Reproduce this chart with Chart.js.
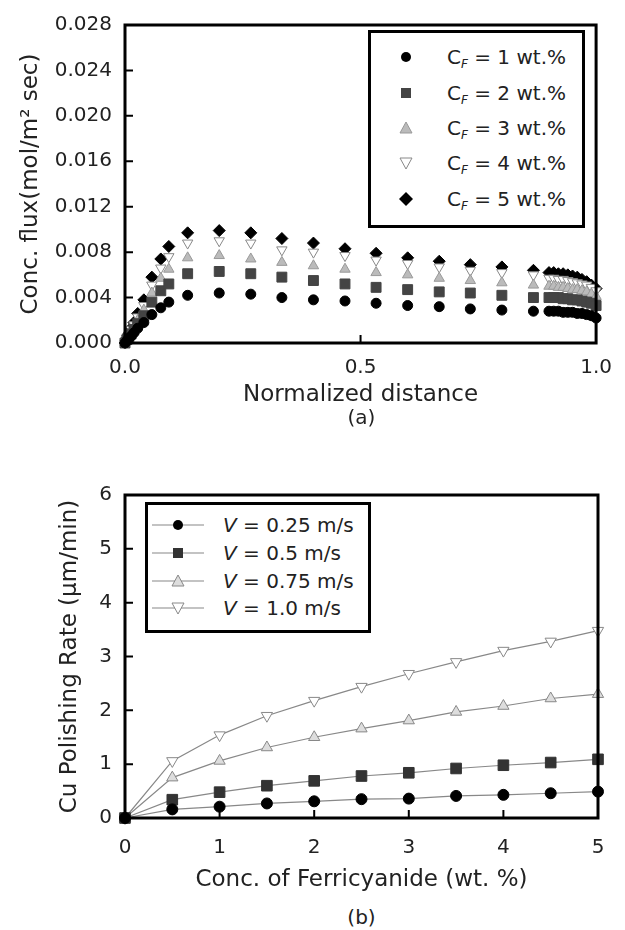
<!DOCTYPE html>
<html lang="en">
<head>
<meta charset="UTF-8" />
<title>Conc. flux / Cu polishing rate</title>
<script src="https://cdn.jsdelivr.net/npm/chart.js"></script>
<style>
    * { box-sizing: border-box; margin: 0; padding: 0; }
    body {
        width: 625px; height: 930px;
        background: #fff; position: relative; overflow: hidden;
        font-family: 'DejaVu Sans', sans-serif; color: #222;
    }
    .wrap { position: absolute; left: 0; width: 625px; }
    .cap { position: absolute; left: 125px; width: 473px; text-align: center; font-size: 20px; line-height: 24px; }

    /* legends drawn as html so the subscripts stay real text */
    .legend { position: absolute; border: 3px solid #000; background: #fff; }
    .row { position: absolute; left: 0; width: 100%; height: 24px; font-size: 20px; line-height: 24px; white-space: nowrap; }
    .row svg { position: absolute; }
    .row .lbl { position: absolute; top: 0; }
    .row sub { font-size: 0.6em; vertical-align: -0.35em; }
</style>
</head>
<body>

<div class="wrap" style="top:0;height:410px"><canvas id="chartA"></canvas></div>
<div class="cap" style="top:405px">(a)</div>

<div class="legend" style="left:368px;top:30px;width:217px;height:198px">
    <div class="row" style="top:12px">
        <svg width="16" height="16" style="left:27px;top:4px"><circle cx="8" cy="8" r="5" fill="#000"/></svg>
        <span class="lbl" style="left:76px">C<sub><i>F</i></sub> = 1 wt.%</span>
    </div>
    <div class="row" style="top:48px">
        <svg width="16" height="16" style="left:27px;top:4px"><rect x="3" y="3" width="10" height="10" fill="#444"/></svg>
        <span class="lbl" style="left:76px">C<sub><i>F</i></sub> = 2 wt.%</span>
    </div>
    <div class="row" style="top:83px">
        <svg width="16" height="16" style="left:27px;top:4px"><polygon points="8,2 14,13 2,13" fill="#bbb" stroke="#999"/></svg>
        <span class="lbl" style="left:76px">C<sub><i>F</i></sub> = 3 wt.%</span>
    </div>
    <div class="row" style="top:118px">
        <svg width="16" height="16" style="left:27px;top:4px"><polygon points="2,3 14,3 8,14" fill="#fff" stroke="#888"/></svg>
        <span class="lbl" style="left:76px">C<sub><i>F</i></sub> = 4 wt.%</span>
    </div>
    <div class="row" style="top:154px">
        <svg width="16" height="16" style="left:27px;top:4px"><polygon points="8,1 15,8 8,15 1,8" fill="#000"/></svg>
        <span class="lbl" style="left:76px">C<sub><i>F</i></sub> = 5 wt.%</span>
    </div>
</div>

<div class="wrap" style="top:470px;height:430px"><canvas id="chartB"></canvas></div>
<div class="cap" style="top:905px">(b)</div>

<div class="legend" style="left:145px;top:502px;width:226px;height:131px">
    <div class="row" style="top:8px">
        <svg width="56" height="16" style="left:4px;top:4px"><line x1="0" y1="8" x2="52" y2="8" stroke="#888" stroke-width="1.2"/><circle cx="26" cy="8" r="5" fill="#000"/></svg>
        <span class="lbl" style="left:75px"><i>V</i> = 0.25 m/s</span>
    </div>
    <div class="row" style="top:36px">
        <svg width="56" height="16" style="left:4px;top:4px"><line x1="0" y1="8" x2="52" y2="8" stroke="#888" stroke-width="1.2"/><rect x="21" y="3" width="10" height="10" fill="#333"/></svg>
        <span class="lbl" style="left:75px"><i>V</i> = 0.5 m/s</span>
    </div>
    <div class="row" style="top:64px">
        <svg width="56" height="16" style="left:4px;top:4px"><line x1="0" y1="8" x2="52" y2="8" stroke="#888" stroke-width="1.2"/><polygon points="26,2 32,13 20,13" fill="#ddd" stroke="#888"/></svg>
        <span class="lbl" style="left:75px"><i>V</i> = 0.75 m/s</span>
    </div>
    <div class="row" style="top:91px">
        <svg width="56" height="16" style="left:4px;top:4px"><line x1="0" y1="8" x2="52" y2="8" stroke="#888" stroke-width="1.2"/><polygon points="20,3 32,3 26,14" fill="#fff" stroke="#888"/></svg>
        <span class="lbl" style="left:75px"><i>V</i> = 1.0 m/s</span>
    </div>
</div>

<script>
    // ---- (a) concentration flux along the pad ----
    const distance = [0, 0.004, 0.008, 0.013, 0.019, 0.027, 0.04, 0.057, 0.076, 0.093,
        0.133, 0.2, 0.267, 0.333, 0.4, 0.467, 0.533, 0.6, 0.667, 0.733, 0.8, 0.867,
        0.9, 0.91, 0.92, 0.93, 0.94, 0.95, 0.96, 0.97, 0.98, 0.99, 1.0];
    const fluxCF1 = [0, 0.0002, 0.0004, 0.0006, 0.0009, 0.0013, 0.0018, 0.0025, 0.0031, 0.0036,
        0.0042, 0.0044, 0.0043, 0.0040, 0.0038, 0.0037, 0.0035, 0.0033, 0.0032, 0.0030, 0.0029, 0.0028,
        0.0028, 0.0028, 0.0028, 0.0027, 0.0027, 0.0027, 0.0026, 0.0026, 0.0025, 0.0024, 0.0022];
    const fluxCF2 = [0, 0.0003, 0.0005, 0.0008, 0.0012, 0.0017, 0.0024, 0.0036, 0.0046, 0.0052,
        0.0061, 0.0063, 0.0061, 0.0058, 0.0055, 0.0052, 0.0049, 0.0047, 0.0045, 0.0044, 0.0042, 0.0040,
        0.0040, 0.0040, 0.0040, 0.0039, 0.0039, 0.0038, 0.0038, 0.0037, 0.0036, 0.0035, 0.0033];
    const fluxCF3 = [0, 0.0003, 0.0006, 0.0010, 0.0014, 0.0020, 0.0029, 0.0044, 0.0057, 0.0065,
        0.0075, 0.0077, 0.0074, 0.0071, 0.0068, 0.0065, 0.0062, 0.0060, 0.0057, 0.0055, 0.0053, 0.0051,
        0.0050, 0.0050, 0.0049, 0.0049, 0.0048, 0.0047, 0.0047, 0.0046, 0.0045, 0.0043, 0.0041];
    const fluxCF4 = [0, 0.0004, 0.0007, 0.0012, 0.0016, 0.0023, 0.0033, 0.0051, 0.0066, 0.0076,
        0.0088, 0.0090, 0.0088, 0.0082, 0.0080, 0.0077, 0.0073, 0.0070, 0.0067, 0.0064, 0.0062, 0.0060,
        0.0057, 0.0057, 0.0056, 0.0056, 0.0055, 0.0054, 0.0053, 0.0052, 0.0051, 0.0049, 0.0046];
    const fluxCF5 = [0, 0.0004, 0.0008, 0.0013, 0.0018, 0.0026, 0.0038, 0.0058, 0.0074, 0.0085,
        0.0097, 0.0099, 0.0097, 0.0092, 0.0088, 0.0083, 0.0079, 0.0075, 0.0072, 0.0069, 0.0067, 0.0064,
        0.0062, 0.0062, 0.0061, 0.0061, 0.0060, 0.0059, 0.0058, 0.0056, 0.0054, 0.0051, 0.0048];
    const xTicksA = [0, 0.5, 1.0];
    const yTicksA = [0, 0.004, 0.008, 0.012, 0.016, 0.020, 0.024, 0.028];

    // ---- (b) polishing rate vs ferricyanide ----
    const ferricyanide = [0, 0.5, 1, 1.5, 2, 2.5, 3, 3.5, 4, 4.5, 5];
    const rateV025 = [0, 0.16, 0.21, 0.27, 0.31, 0.35, 0.36, 0.41, 0.43, 0.46, 0.49];
    const rateV05  = [0, 0.34, 0.48, 0.60, 0.69, 0.78, 0.84, 0.92, 0.98, 1.03, 1.09];
    const rateV075 = [0, 0.75, 1.06, 1.31, 1.50, 1.66, 1.81, 1.97, 2.08, 2.22, 2.30];
    const rateV10  = [0, 1.06, 1.54, 1.90, 2.18, 2.44, 2.68, 2.90, 3.11, 3.28, 3.48];
    const xTicksB = [0, 1, 2, 3, 4, 5];
    const yTicksB = [0, 1, 2, 3, 4, 5, 6];

    Chart.defaults.font.family = "'DejaVu Sans', sans-serif";
    Chart.defaults.color = '#222';

    // frame box + short ticks pointing into the plot
    const frameTicks = {
        id: 'frameTicks',
        afterDraw(chart) {
            const { ctx, chartArea: a, scales: { x, y } } = chart;
            ctx.save();
            ctx.strokeStyle = '#000';
            ctx.lineWidth = 2;
            ctx.beginPath();
            y.ticks.forEach(t => {
                const py = y.getPixelForValue(t.value);
                if (py > a.top + 2 && py < a.bottom - 2) { ctx.moveTo(a.left, py); ctx.lineTo(a.left + 8, py); }
            });
            x.ticks.forEach(t => {
                const px = x.getPixelForValue(t.value);
                if (px > a.left + 2 && px < a.right - 2) { ctx.moveTo(px, a.bottom); ctx.lineTo(px, a.bottom - 8); }
            });
            ctx.stroke();
            ctx.lineWidth = 3;
            ctx.strokeRect(a.left, a.top, a.right - a.left, a.bottom - a.top);
            ctx.restore();
        }
    };

    function pts(xs, ys) {
        return xs.map((v, i) => ({ x: v, y: ys[i] }));
    }

    function axis(min, max, tickList, fmt, title, titlePad, tickPad, size) {
        return {
            type: 'linear', min: min, max: max,
            grid: { display: false, drawTicks: false },
            border: { display: false },
            afterBuildTicks: s => { s.ticks = tickList.map(v => ({ value: v })); },
            ticks: { padding: tickPad, color: '#222', font: { size: 20 }, callback: fmt },
            title: { display: true, text: title, color: '#222', font: { size: 23 }, padding: titlePad },
            afterFit: size
        };
    }

    const mk = (data, style, bg, border, r, rot) => ({
        data: data, showLine: false, clip: false,
        pointStyle: style, pointRadius: r, pointRotation: rot || 0,
        pointBackgroundColor: bg, pointBorderColor: border, pointBorderWidth: 1
    });

    new Chart(document.getElementById('chartA'), {
        type: 'scatter',
        data: {
            datasets: [
                mk(pts(distance, fluxCF1), 'circle', '#000', '#000', 5),
                mk(pts(distance, fluxCF2), 'rect', '#444', '#444', 7),
                mk(pts(distance, fluxCF3), 'triangle', '#bbb', '#999', 6),
                mk(pts(distance, fluxCF4), 'triangle', '#fff', '#888', 6, 180),
                mk(pts(distance, fluxCF5), 'rectRot', '#000', '#000', 6)
            ]
        },
        options: {
            responsive: true, maintainAspectRatio: false, animation: false,
            layout: { padding: { top: 17, right: 27, left: 0, bottom: 0 } },
            plugins: { legend: { display: false }, tooltip: { enabled: false } },
            scales: {
                x: axis(0, 1, xTicksA, v => v.toFixed(1), 'Normalized distance',
                    { top: 0, bottom: 1 }, 13, s => { s.height = 67; }),
                y: axis(0, 0.028, yTicksA, v => v.toFixed(3), 'Conc. flux(mol/m\u00B2 sec)',
                    { top: 17, bottom: 0 }, 13, s => { s.width = 125; })
            }
        },
        plugins: [frameTicks]
    });

    const ln = (data, style, bg, border, r, rot) => ({
        data: data, showLine: true, clip: false,
        borderColor: '#888', borderWidth: 1.2,
        pointStyle: style, pointRadius: r, pointRotation: rot || 0,
        pointBackgroundColor: bg, pointBorderColor: border, pointBorderWidth: 1
    });

    new Chart(document.getElementById('chartB'), {
        type: 'scatter',
        data: {
            datasets: [
                ln(pts(ferricyanide, rateV025), 'circle', '#000', '#000', 5.5),
                ln(pts(ferricyanide, rateV05), 'rect', '#333', '#333', 7.5),
                ln(pts(ferricyanide, rateV075), 'triangle', '#ddd', '#888', 6.5),
                ln(pts(ferricyanide, rateV10), 'triangle', '#fff', '#888', 6.5, 180)
            ]
        },
        options: {
            responsive: true, maintainAspectRatio: false, animation: false,
            layout: { padding: { top: 17, right: 27, left: 0, bottom: 0 } },
            plugins: { legend: { display: false }, tooltip: { enabled: false } },
            scales: {
                x: axis(0, 5, xTicksB, v => String(v), 'Conc. of Ferricyanide (wt. %)',
                    { top: 0, bottom: 6 }, 18, s => { s.height = 82; }),
                y: axis(0, 6, yTicksB, v => String(v), 'Cu Polishing Rate (\u03BCm/min)',
                    { top: 56, bottom: 0 }, 13, s => { s.width = 125; })
            }
        },
        plugins: [frameTicks]
    });
</script>
</body>
</html>
